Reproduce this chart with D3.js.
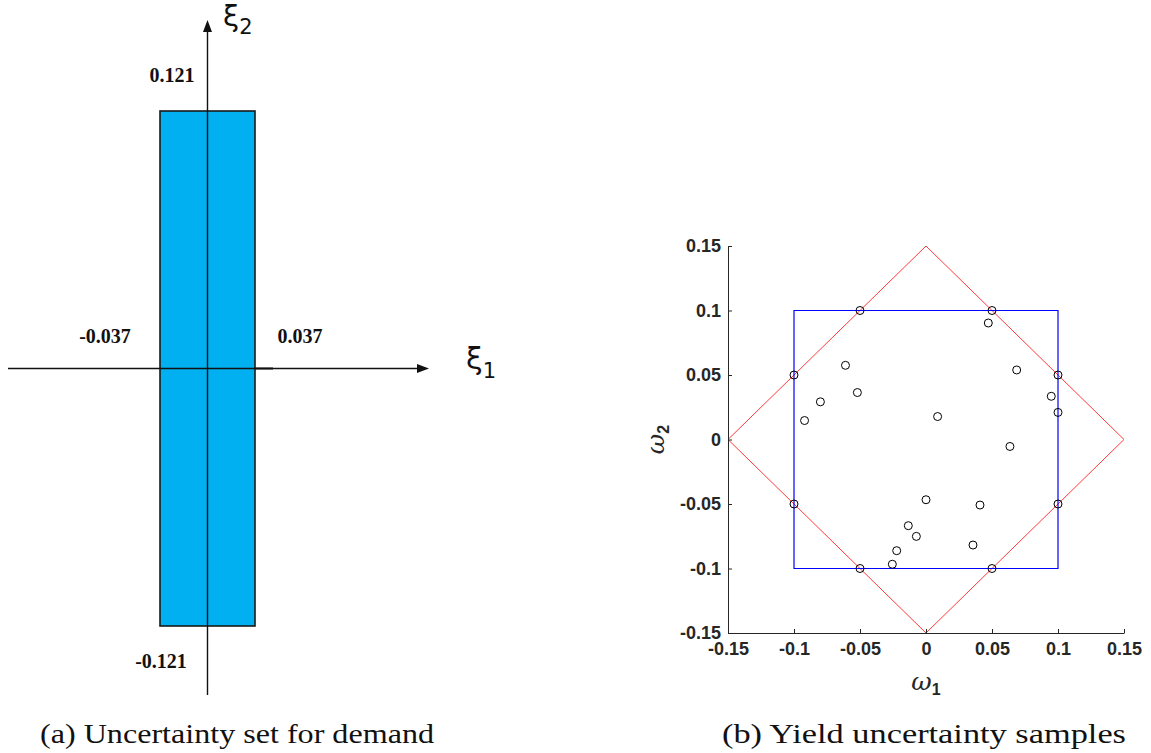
<!DOCTYPE html>
<html lang="en">
<head>
  <meta charset="UTF-8">
  <title>Uncertainty sets</title>
  <script type="text/javascript" src="https://cdn.jsdelivr.net/npm/d3@7"></script>
  <style type="text/css">
  body {
    background: #fff;
    margin: 0;
    padding: 0;
  }
  .axis path, .axis line {
    stroke: #262626;
  }
  .axis text {
    fill: #262626;
    font-family: "Liberation Sans", Arial, sans-serif;
    font-weight: bold;
    font-size: 18px;
  }
  .bound {
    font-family: "Liberation Serif", "Times New Roman", serif;
    font-weight: bold;
    font-size: 20px;
    fill: #111;
  }
  .caption {
    font-family: "Liberation Serif", "DejaVu Serif", serif;
    font-size: 28px;
    fill: #111;
  }
  </style>
</head>
<body>
<div id="chart"></div>
<script type="text/javascript">
  var width = 1151, height = 753;

  // (a) box uncertainty for demand
  var xi1Bounds = [-0.037, 0.037];
  var xi2Bounds = [-0.121, 0.121];

  // (b) yield uncertainty
  var boxSet = [[-0.1, -0.1], [0.1, -0.1], [0.1, 0.1], [-0.1, 0.1]];
  var diamondSet = [[0, 0.15], [0.15, 0], [0, -0.15], [-0.15, 0]];
  var cornerSamples = [[-0.1, 0.05], [-0.05, 0.1], [0.05, 0.1], [0.1, 0.05],
                       [0.1, -0.05], [0.05, -0.1], [-0.05, -0.1], [-0.1, -0.05]];
  var innerSamples = [[-0.061, 0.0575], [-0.052, 0.0364], [-0.080, 0.0292], [-0.092, 0.0147],
                      [0.0088, 0.0178], [0.0472, 0.0903], [0.0687, 0.0539], [0.0949, 0.0335],
                      [0.1, 0.021], [0.0636, -0.0054], [0, -0.0467], [-0.0134, -0.0668],
                      [-0.0073, -0.0751], [-0.0222, -0.0862], [-0.0255, -0.0967],
                      [0.0409, -0.0508], [0.0356, -0.0818]];
  var omegaTicks = [-0.15, -0.1, -0.05, 0, 0.05, 0.1, 0.15];

  var svg = d3.select('#chart')
    .append('svg')
    .attr('width', width)
    .attr('height', height);

// ---------- panel (a)
  var xA = d3.scaleLinear().domain(xi1Bounds).range([160, 255]);
  var yA = d3.scaleLinear().domain(xi2Bounds).range([626, 111]);

  var gA = svg.append('g');

  gA.append('rect')
    .attr('x', xA(xi1Bounds[0]))
    .attr('y', yA(xi2Bounds[1]))
    .attr('width', xA(xi1Bounds[1]) - xA(xi1Bounds[0]))
    .attr('height', yA(xi2Bounds[0]) - yA(xi2Bounds[1]))
    .attr('fill', '#00b0f0')
    .attr('stroke', '#1a1a1a')
    .attr('stroke-width', 1.6);

  // axes with arrows
  var ax0 = xA(0), ay0 = yA(0);
  gA.append('line')
    .attr('x1', 8).attr('x2', 420)
    .attr('y1', ay0).attr('y2', ay0)
    .attr('stroke', '#111').attr('stroke-width', 1.4);
  gA.append('line')
    .attr('x1', xA(xi1Bounds[1])).attr('x2', 273)
    .attr('y1', ay0).attr('y2', ay0)
    .attr('stroke', '#111').attr('stroke-width', 2);
  gA.append('path')
    .attr('d', 'M' + 429 + ',' + ay0 + 'L' + 417 + ',' + (ay0 - 4.5) + 'L' + 417 + ',' + (ay0 + 4.5) + 'Z')
    .attr('fill', '#111');
  gA.append('line')
    .attr('x1', ax0).attr('x2', ax0)
    .attr('y1', 30).attr('y2', 695)
    .attr('stroke', '#111').attr('stroke-width', 1.4);
  gA.append('path')
    .attr('d', 'M' + ax0 + ',' + 20 + 'L' + (ax0 - 4.5) + ',' + 32 + 'L' + (ax0 + 4.5) + ',' + 32 + 'Z')
    .attr('fill', '#111');

  // bound labels
  gA.append('text').attr('class', 'bound')
    .attr('x', xA(xi1Bounds[0]) + 12).attr('y', 82)
    .attr('text-anchor', 'middle').text(d3.format('.3f')(xi2Bounds[1]));
  gA.append('text').attr('class', 'bound')
    .attr('x', xA(xi1Bounds[0]) + 1).attr('y', 668)
    .attr('text-anchor', 'middle').text(d3.format('.3f')(xi2Bounds[0]).replace('−', '-'));
  gA.append('text').attr('class', 'bound')
    .attr('x', 105).attr('y', 343)
    .attr('text-anchor', 'middle').text(d3.format('.3f')(xi1Bounds[0]).replace('−', '-'));
  gA.append('text').attr('class', 'bound')
    .attr('x', 300).attr('y', 343)
    .attr('text-anchor', 'middle').text(d3.format('.3f')(xi1Bounds[1]));

  // axis names
  var xiLab2 = gA.append('text')
    .attr('x', 223).attr('y', 26)
    .style('font-family', '"DejaVu Sans", sans-serif')
    .style('font-size', '29px')
    .attr('fill', '#111');
  xiLab2.append('tspan').text('ξ');
  xiLab2.append('tspan').attr('dy', 8).style('font-size', '21px').text('2');

  var xiLab1 = gA.append('text')
    .attr('x', 466).attr('y', 369)
    .style('font-family', '"DejaVu Sans", sans-serif')
    .style('font-size', '30px')
    .attr('fill', '#111');
  xiLab1.append('tspan').text('ξ');
  xiLab1.append('tspan').attr('dy', 9).style('font-size', '21px').text('1');

// ---------- panel (b)
  var xB = d3.scaleLinear().domain([-0.15, 0.15]).range([728, 1124]);
  var yB = d3.scaleLinear().domain([-0.15, 0.15]).range([633, 246]);
  var fmt = function(d) { return String(d); };

  var gB = svg.append('g');

  var poly = d3.line()
    .x(function(d) { return xB(d[0]); })
    .y(function(d) { return yB(d[1]); })
    .curve(d3.curveLinearClosed);

  gB.append('path')
    .attr('d', poly(diamondSet))
    .attr('fill', 'none')
    .attr('stroke', '#ff3a3a')
    .attr('stroke-width', 1);

  gB.append('path')
    .attr('d', poly(boxSet))
    .attr('fill', 'none')
    .attr('stroke', '#0000ff')
    .attr('stroke-width', 1.2);

  gB.selectAll('.dot')
    .data(cornerSamples.concat(innerSamples))
    .enter()
    .append('circle')
    .attr('class', 'dot')
    .attr('cx', function(d) { return xB(d[0]); })
    .attr('cy', function(d) { return yB(d[1]); })
    .attr('r', 4)
    .attr('fill', 'none')
    .attr('stroke', '#000')
    .attr('stroke-width', 1);

  var xAxis = d3.axisBottom(xB).tickValues(omegaTicks).tickFormat(fmt)
    .tickSizeInner(-4).tickSizeOuter(0).tickPadding(9);
  var yAxis = d3.axisLeft(yB).tickValues(omegaTicks).tickFormat(fmt)
    .tickSizeInner(-4).tickSizeOuter(0).tickPadding(7);

  gB.append('g').attr('class', 'axis')
    .attr('transform', 'translate(0,' + yB(-0.15) + ')')
    .call(xAxis);
  gB.append('g').attr('class', 'axis')
    .attr('transform', 'translate(' + xB(-0.15) + ',0)')
    .call(yAxis);

  var om1 = gB.append('text')
    .attr('x', xB(0)).attr('y', 690)
    .attr('text-anchor', 'middle')
    .style('font-family', '"DejaVu Serif", serif')
    .style('font-style', 'italic')
    .style('font-size', '25px')
    .attr('fill', '#262626');
  om1.append('tspan').text('ω');
  om1.append('tspan').attr('dy', 5).style('font-size', '16px').style('font-style', 'normal')
    .style('font-family', '"Liberation Sans", sans-serif').style('font-weight', 'bold').text('1');

  var om2 = gB.append('text')
    .attr('transform', 'translate(664,' + yB(0) + ') rotate(-90)')
    .attr('text-anchor', 'middle')
    .style('font-family', '"DejaVu Serif", serif')
    .style('font-style', 'italic')
    .style('font-size', '25px')
    .attr('fill', '#262626');
  om2.append('tspan').text('ω');
  om2.append('tspan').attr('dy', 5).style('font-size', '16px').style('font-style', 'normal')
    .style('font-family', '"Liberation Sans", sans-serif').style('font-weight', 'bold').text('2');

// ---------- captions
  svg.append('text').attr('class', 'caption')
    .attr('x', 40).attr('y', 743)
    .attr('textLength', 394).attr('lengthAdjust', 'spacingAndGlyphs')
    .text('(a) Uncertainty set for demand');
  svg.append('text').attr('class', 'caption')
    .attr('x', 722).attr('y', 743)
    .attr('textLength', 404).attr('lengthAdjust', 'spacingAndGlyphs')
    .text('(b) Yield uncertainty samples');
</script>
</body>
</html>
